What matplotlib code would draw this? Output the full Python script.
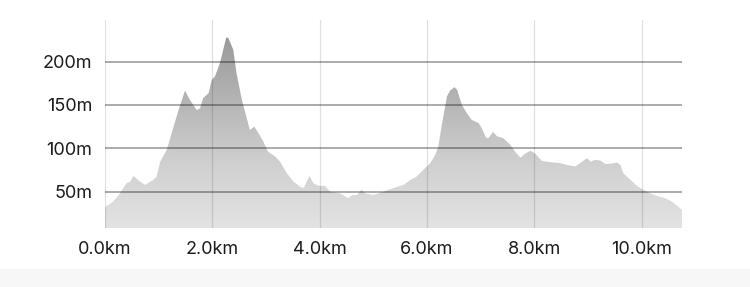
import numpy as np
import matplotlib
matplotlib.use('Agg')
import matplotlib.pyplot as plt
from matplotlib.colors import LinearSegmentedColormap

# elevation profile
dist_km = [0.0, 0.155, 0.28, 0.40, 0.47, 0.53, 0.65, 0.75, 0.90, 0.96, 1.03, 1.15, 1.24,
           1.37, 1.49, 1.58, 1.71, 1.77, 1.83, 1.93, 1.99, 2.05, 2.14, 2.26, 2.30, 2.39,
           2.45, 2.55, 2.64, 2.70, 2.78, 2.86, 2.95, 3.04, 3.17, 3.26, 3.39, 3.51, 3.63,
           3.70, 3.81, 3.88, 3.98, 4.10, 4.19, 4.38, 4.53, 4.60, 4.69, 4.78, 4.85, 5.00,
           5.19, 5.37, 5.56, 5.69, 5.80, 5.93, 6.06, 6.15, 6.21, 6.27, 6.37, 6.43, 6.51,
           6.56, 6.65, 6.74, 6.83, 6.96, 7.02, 7.10, 7.15, 7.23, 7.30, 7.42, 7.55, 7.64,
           7.74, 7.83, 7.93, 8.01, 8.14, 8.29, 8.48, 8.60, 8.76, 8.85, 8.98, 9.05, 9.13,
           9.23, 9.32, 9.41, 9.54, 9.60, 9.66, 9.79, 9.91, 10.03, 10.16, 10.28, 10.44,
           10.56, 10.68, 10.75]
elev_m = [32, 38.5, 48, 59.7, 61.5, 68, 61.5, 57.7, 63.5, 67, 84.6, 98, 117,
          144, 166.6, 156, 144, 146, 158, 163.6, 179, 183, 198, 228, 227, 213.6,
          186.7, 156, 134.8, 121, 125, 117.4, 107.7, 96, 90.4, 84.6, 71, 61.5, 55.8,
          54, 68, 59.7, 56.6, 56.6, 50, 48, 42.3, 46, 46, 52, 48, 46,
          50, 54, 57.7, 63.5, 67, 75, 82.8, 92, 102, 125, 159.7, 166.6, 170.5,
          167.4, 150, 140.5, 132.8, 129, 123, 112, 112, 119, 114, 111.6, 104, 96,
          89, 94, 97, 94, 85.4, 84, 82.8, 80.8, 79, 82.8, 88.6, 84.6, 86.6,
          85.8, 82, 82, 83.5, 80.8, 71, 63.5, 56.6, 52, 48, 45, 42.3,
          38.5, 32.7, 28.9]
x_ticks = [0, 2, 4, 6, 8, 10]
x_labels = ['0.0km', '2.0km', '4.0km', '6.0km', '8.0km', '10.0km']
y_ticks = [50, 100, 150, 200]
y_labels = ['50m', '100m', '150m', '200m']

plt.rcParams['font.family'] = ['Inter', 'DejaVu Sans']

fig = plt.figure(figsize=(7.5, 2.87), dpi=100)
# light band at the bottom of the card
fig.patches.append(plt.Rectangle((0, 0), 1, 18 / 287, transform=fig.transFigure,
                                 color='#f7f7f7', zorder=0))
ax = fig.add_axes([105 / 750, 59 / 287, 577 / 750, 208 / 287])

ymin, ymax = 8, 248
xmax = dist_km[-1]

poly = ax.fill_between(dist_km, elev_m, ymin, color='none', lw=0)
cmap = LinearSegmentedColormap.from_list('g', ['#e3e3e3', '#d0d0d0', '#b4b4b4', '#999999'])
grad = np.linspace(0, 1, 256).reshape(-1, 1)
im = ax.imshow(grad, cmap=cmap, origin='lower', aspect='auto',
               extent=[0, xmax, ymin, 230], zorder=1)
path = poly.get_paths()[0]
im.set_clip_path(path, transform=ax.transData)

for x in x_ticks:
    ax.axvline(x, color='#000000', alpha=0.12, lw=0.9, zorder=2)
for y in y_ticks:
    ax.axhline(y, color='#000000', alpha=0.42, lw=1.1, zorder=3)

ax.set_xlim(0, xmax)
ax.set_ylim(ymin, ymax)
ax.set_xticks(x_ticks, x_labels)
ax.set_yticks(y_ticks, y_labels)
ax.tick_params(length=0, labelsize=13, colors='#1c1c1c')
ax.tick_params(axis='y', pad=9)
ax.tick_params(axis='x', pad=9)
for s in ax.spines.values():
    s.set_visible(False)

fig.savefig('out.png', dpi=100)
